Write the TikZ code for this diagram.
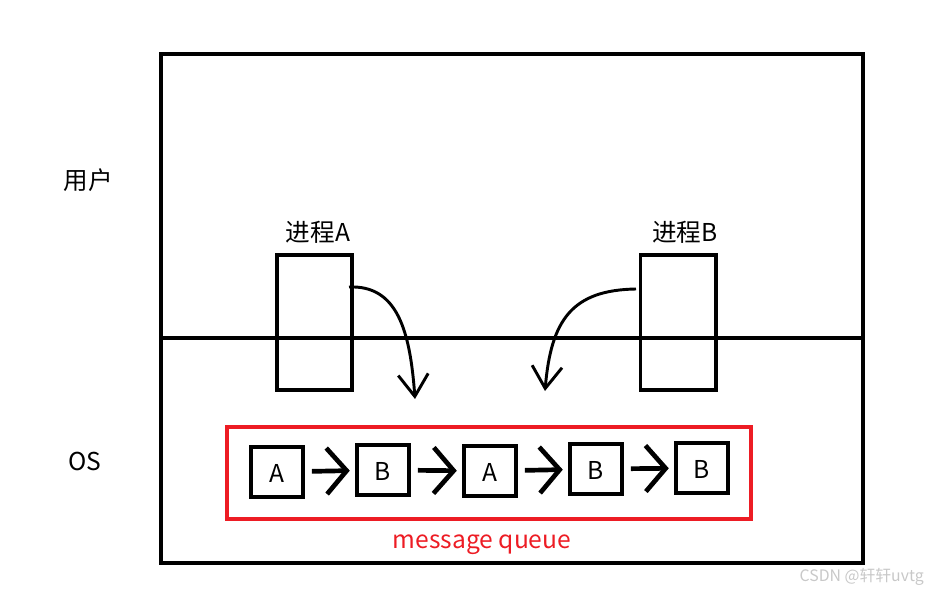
\documentclass[tikz,border=0pt]{standalone}
\usepackage{fontspec}
\setmainfont{Noto Sans CJK SC}
\usepackage{tikz}
\usetikzlibrary{arrows.meta}
\definecolor{qred}{RGB}{237,28,36}
\definecolor{wmgray}{RGB}{200,200,200}
\tikzset{
  proc/.style={draw, line width=3.4pt, minimum width=2.25cm, minimum height=4.05cm, inner sep=0pt},
  msg/.style={draw, line width=3.8pt, minimum width=1.56cm, minimum height=1.5cm, inner sep=0pt, text height=0.62cm, text depth=0pt},
  lbl/.style={font=\fontsize{21}{25}\selectfont, inner sep=0pt},
  qarrow/.style={line width=4pt, -{Straight Barb[length=0.6cm, width=1.38cm]}, shorten <=0.2cm, shorten >=0.15cm},
  send/.style={line width=2.5pt, -{Straight Barb[length=0.66cm, width=0.9cm]}}
}

\begin{document}
\begin{tikzpicture}[x=0.03cm, y=-0.03cm]
    \useasboundingbox (0,0) rectangle (927,592);

    % System frame
    \draw[line width=3.4pt] (161,54) rectangle (863,563);
    \draw[line width=3.4pt] (161,338) -- (863,338);
    \node[lbl] (user) at (88,180) {用户};
    \node[lbl] (os) at (85,461) {OS};

    % Processes
    \node[proc] (procA) at (314.5,322.5) {};
    \node[proc] (procB) at (678,322.5) {};
    \node[lbl] (nameA) at (318,232) {进程A};
    \node[lbl] (nameB) at (685,232) {进程B};

    % Sending into the queue
    \coordinate (outA) at (349,287);
    \coordinate (inA) at (415,399);
    \coordinate (outB) at (636,289);
    \coordinate (inB) at (545,391);
    \draw[send] (outA) .. controls (397,285) and (410,330) .. (inA);
    \draw[send] (outB) .. controls (572,290) and (551,320) .. (inB);

    % Message queue
    \draw[qred, line width=3.4pt] (227,427) rectangle (751,519);
    \node[msg, lbl, draw] (m1) at (277,472) {A};
    \node[msg, lbl, draw] (m2) at (383,470) {B};
    \node[msg, lbl, draw] (m3) at (490,471) {A};
    \node[msg, lbl, draw] (m4) at (596,469) {B};
    \node[msg, lbl, draw] (m5) at (702,468) {B};
    \foreach \a/\b in {m1/m2, m2/m3, m3/m4, m4/m5}
        \draw[qarrow] (\a) -- (\b);
    \node[lbl, qred] (queue) at (482,545) {message queue};

    % Watermark
    \node[wmgray, font=\fontsize{13.5}{16}\selectfont, inner sep=0pt, anchor=east] (wm) at (924,577) {CSDN @轩轩uvtg};
\end{tikzpicture}
\end{document}
